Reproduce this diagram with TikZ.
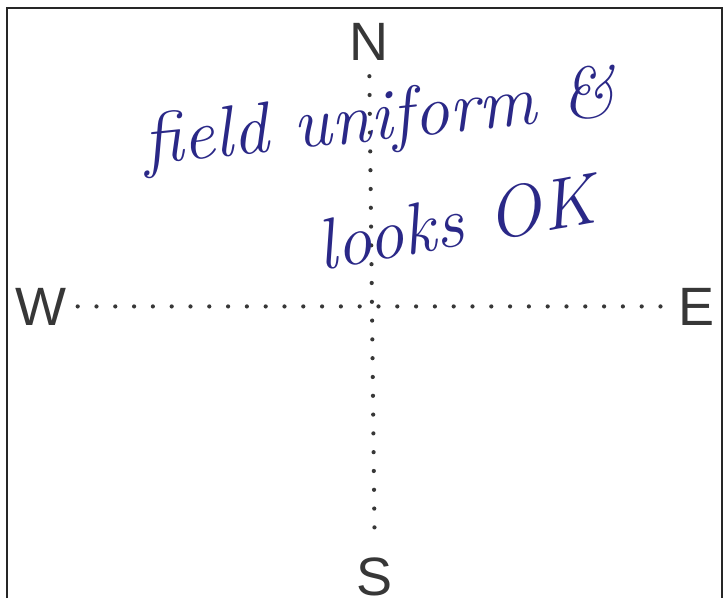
\documentclass[tikz,border=0pt]{standalone}
\usepackage{fontspec}
\newfontfamily\compassfont{Liberation Sans}
\usetikzlibrary{positioning}
\definecolor{ink}{RGB}{42,40,135}
\definecolor{lettergray}{RGB}{55,55,55}
\begin{document}
\begin{tikzpicture}[x=1pt,y=-1pt,
every node/.style={inner sep=0pt},
compass/.style={text=lettergray, font=\compassfont\fontsize{54}{54}\selectfont, anchor=base},
dots/.style={draw=lettergray, line width=4.2pt, line cap=round, dash pattern=on 0pt off 18.8pt},
hand/.style={text=ink, font=\fontsize{72}{72}\selectfont\itshape, anchor=base}]
\useasboundingbox (0,0) rectangle (724,598);
\fill[white] (0,0) rectangle (724,598);
\draw[line width=1.8pt, black!85] (7,598) -- (7,8) -- (722,8) -- (722,598);
\node[compass] (N) at (369,60) {N};
\node[compass] (S) at (375,595) {S};
\node[compass] (W) at (41,325) {W};
\node[compass] (E) at (697,325) {E};
\draw[dots, shorten <=16pt, shorten >=23pt] (N) -- (S);
\draw[dots, shorten <=11pt, shorten >=6pt] (W) -- (E);
\node[hand, rotate=6] (line1) at (381,140) {field uniform \&};
\node[hand, rotate=10] (line2) at (460,246) {looks OK};
\end{tikzpicture}
\end{document}
